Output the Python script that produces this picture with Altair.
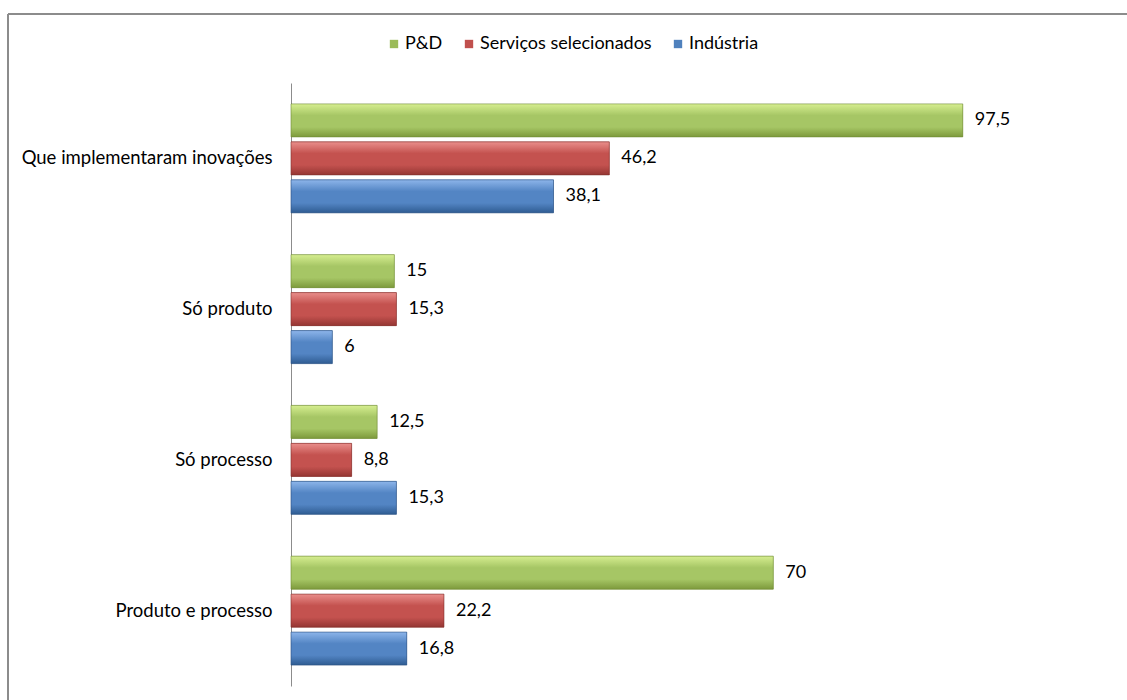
import altair as alt
import pandas as pd

categories = ["Que implementaram inovações", "Só produto", "Só processo", "Produto e processo"]
series = ["P&D", "Serviços selecionados", "Indústria"]
values_pd = [97.5, 15, 12.5, 70]
values_serv = [46.2, 15.3, 8.8, 22.2]
values_ind = [38.1, 6, 15.3, 16.8]

colors = ["#9BBB59", "#C0504D", "#4F81BD"]
grad_stops = {
    "P&D": ["#d6ee90", "#a6c665", "#7d9a3c"],
    "Serviços selecionados": ["#e98e8b", "#c4524f", "#953633"],
    "Indústria": ["#8db5ea", "#5385c4", "#2f5c92"],
}
strokes = {"P&D": "#6f8a36", "Serviços selecionados": "#7f2e2c", "Indústria": "#2a4f7e"}

rows = []
for s, vals in zip(series, [values_pd, values_serv, values_ind]):
    for c, v in zip(categories, vals):
        rows.append({"categoria": c, "serie": s, "valor": v})
df = pd.DataFrame(rows)

FONT = "Lato"
FS = 18

y_enc = alt.Y(
    "categoria:N",
    sort=categories,
    scale=alt.Scale(paddingInner=0, paddingOuter=0),
    axis=alt.Axis(
        title=None, ticks=False, labelPadding=19, labelFontSize=18.5, labelFont=FONT,
        labelColor="black", domainColor="#8c8c8c", labelLimit=400, grid=False,
    ),
)
yoff_enc = alt.YOffset("serie:N", sort=series, scale=alt.Scale(paddingInner=0.13, paddingOuter=0.55))
x_enc = alt.X("valor:Q", scale=alt.Scale(domain=[0, 100]), axis=None)

base = alt.Chart(df)

solid = base.mark_bar().encode(
    x=x_enc,
    y=y_enc,
    yOffset=yoff_enc,
    color=alt.Color(
        "serie:N",
        sort=series,
        scale=alt.Scale(domain=series, range=colors),
        legend=alt.Legend(
            title=None, orient="none", direction="horizontal", legendX=94, legendY=-48,
            symbolType="square", symbolSize=70, symbolStrokeWidth=0, labelFontSize=FS,
            labelFont=FONT, labelColor="black", columnPadding=17, labelOffset=2,
            labelLimit=400,
        ),
    ),
)

layers = [solid]
for s in series:
    st = grad_stops[s]
    g = alt.Gradient(
        gradient="linear",
        stops=[
            alt.GradientStop(color=st[0], offset=0),
            alt.GradientStop(color=st[1], offset=0.35),
            alt.GradientStop(color=st[1], offset=0.7),
            alt.GradientStop(color=st[2], offset=1),
        ],
        x1=0, x2=0, y1=0, y2=1,
    )
    layers.append(
        base.transform_filter(alt.datum.serie == s)
        .mark_bar(color=g, stroke=strokes[s], strokeWidth=1, strokeOpacity=0.6)
        .encode(x=x_enc, y=y_enc, yOffset=yoff_enc)
    )

text = base.transform_calculate(
    label="replace(toString(datum.valor), '.', ',')"
).mark_text(align="left", baseline="middle", dx=12, fontSize=FS, font=FONT, color="black").encode(
    x=x_enc, y=y_enc, yOffset=yoff_enc, text="label:N"
)
layers.append(text)

frame_top = alt.Chart(pd.DataFrame({"a": [0]})).mark_rule(color="#8c8c8c", strokeWidth=2).encode(
    x=alt.value(-283), x2=alt.value(900), y=alt.value(-69)
)
frame_left = alt.Chart(pd.DataFrame({"a": [0]})).mark_rule(color="#8c8c8c", strokeWidth=2).encode(
    x=alt.value(-283), y=alt.value(-69), y2=alt.value(700)
)
layers += [frame_top, frame_left]

chart = alt.layer(*layers).properties(
    width=689, height=603,
    background="white",
    autosize=alt.AutoSizeParams(type="none"),
    padding={"left": 291, "top": 83, "right": 147, "bottom": 14},
).configure_view(strokeWidth=0, stroke="transparent")

chart.save("out.html", embed_options={"renderer": "svg", "actions": False})
